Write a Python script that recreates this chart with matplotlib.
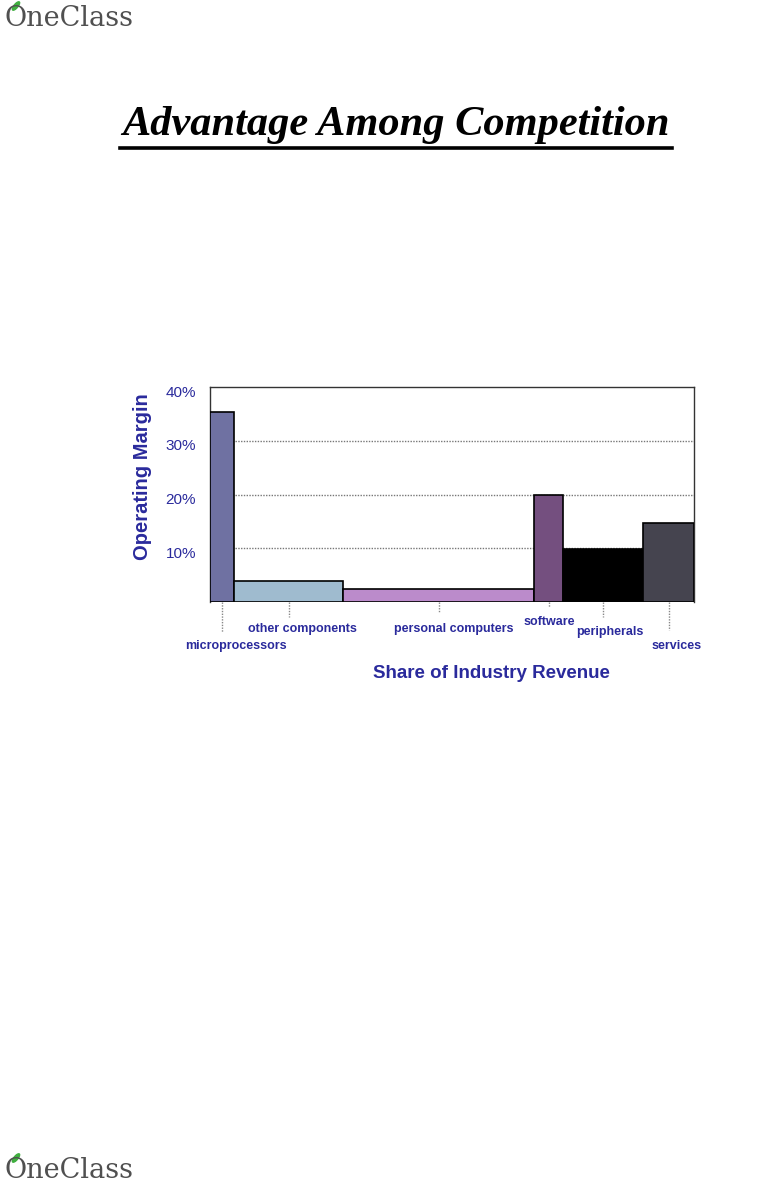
import matplotlib.pyplot as plt
import matplotlib.patches as mpatches
import matplotlib.lines as mlines
import matplotlib.transforms as mtransforms
import numpy as np

# data
categories = ["microprocessors", "other components", "personal computers",
              "software", "peripherals", "services"]
revenue_share = [5.0, 22.5, 39.5, 6.0, 16.5, 10.5]   # bar widths (% of industry revenue)
operating_margin = [35.4, 4.0, 2.4, 20.0, 9.8, 14.7]  # bar heights (%)
y_ticks = [10, 20, 30, 40]
y_tick_labels = ["10%", "20%", "30%", "40%"]

colors = ["#6f71a2", "#9fbbcf", "#bb8bcb", "#744f7f", "#000000", "#45444f"]
# per-label placement (tick length in axes fraction, label y, x offset in points)
tick_len = [0.14, 0.07, 0.05, 0.025, 0.07, 0.13]
label_y = [-0.205, -0.126, -0.126, -0.093, -0.14, -0.205]
label_dx = [10, 10, 11, 0, 5, 6]

BLUE = "#2a2a9c"

fig = plt.figure(figsize=(7.84, 11.85), dpi=100)

# page header / footer logos
for ypos in [1 - 19 / 1185, 1 - 1171 / 1185]:
    fig.text(0.006, ypos, "OneClass", fontsize=19.5, family="DejaVu Serif",
             color="#505050", va="center", ha="left")
    leaf = mpatches.Ellipse((16 / 784, ypos + 13 / 1185), 0.011, 0.004, angle=35,
                            transform=fig.transFigure, color="#3fae3f")
    fig.add_artist(leaf)

# title
fig.text(396 / 784, 1 - 125 / 1185, "Advantage Among Competition",
         fontsize=30.5, family="Liberation Serif", weight="bold", style="italic",
         ha="center", va="center")
fig.add_artist(mlines.Line2D([120 / 784, 672 / 784], [1 - 148 / 1185] * 2,
                             color="black", lw=2.6, transform=fig.transFigure))

ax = fig.add_axes([210 / 784, 1 - 602 / 1185, 484 / 784, 215 / 1185])

lefts = np.concatenate([[0], np.cumsum(revenue_share)[:-1]])
ax.bar(lefts, operating_margin, width=revenue_share, align="edge",
       color=colors, edgecolor="black", linewidth=1.2, zorder=3)

ax.set_xlim(0, sum(revenue_share))
ax.set_ylim(0, 40)

for y in y_ticks[:-1]:
    ax.axhline(y, color="#777777", lw=1, ls=(0, (1, 1)), zorder=1)

ax.set_yticks(y_ticks)
ax.set_yticklabels(y_tick_labels, color=BLUE, fontsize=11, family="Liberation Sans")
ax.tick_params(axis="y", length=0, pad=10)
ax.tick_params(axis="x", bottom=False, labelbottom=False)
shift = mtransforms.ScaledTranslation(0, -3 / 72, fig.dpi_scale_trans)
for lbl in ax.get_yticklabels():
    lbl.set_transform(lbl.get_transform() + shift)

for s in ax.spines.values():
    s.set_color("#333333")
    s.set_linewidth(1)
ax.spines["bottom"].set_visible(False)

centers = lefts + np.array(revenue_share) / 2
trans = ax.get_xaxis_transform()
for c, name, tl, ly, dx in zip(centers, categories, tick_len, label_y, label_dx):
    ax.plot([c, c], [0, -tl], transform=trans, color="#888888", lw=1,
            ls=(0, (1, 1)), clip_on=False)
    ax.annotate(name, xy=(c, ly), xycoords=trans, xytext=(dx, 0),
                textcoords="offset points", ha="center", va="center",
                color=BLUE, fontsize=9, weight="bold", family="Liberation Sans")

ax.set_xlabel("Share of Industry Revenue", color=BLUE, fontsize=13.5,
              weight="bold", family="Liberation Sans")
ax.xaxis.set_label_coords((491 - 210) / 484, -0.295)
ax.set_ylabel("Operating Margin", color=BLUE, fontsize=14.5,
              weight="bold", family="Liberation Sans")
ax.yaxis.set_label_coords(-(210 - 152) / 484, 0.585)

fig.savefig("out.png", dpi=100)
